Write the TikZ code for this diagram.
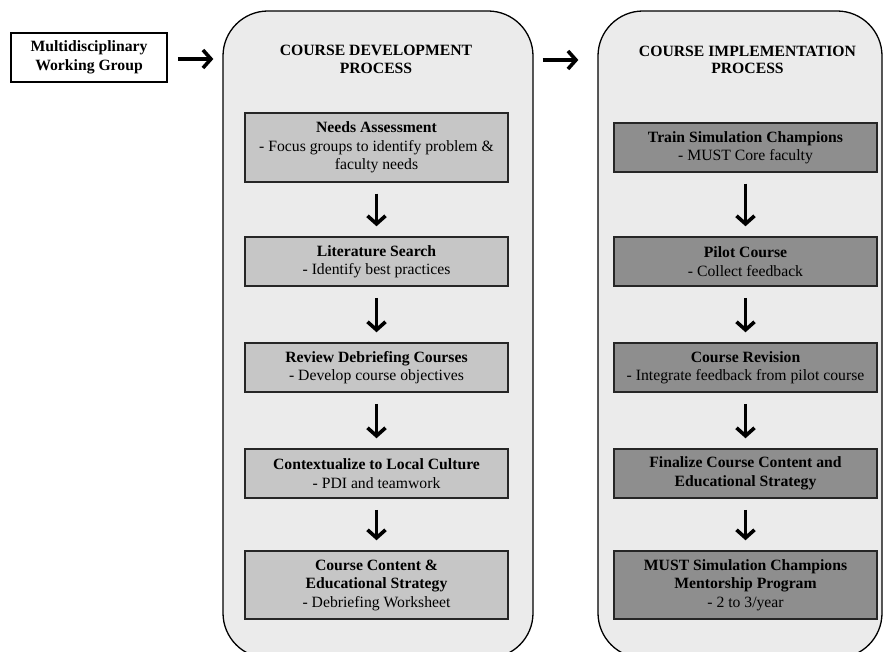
\documentclass[tikz,border=0pt]{standalone}
\usepackage{fontspec}
\setmainfont{Liberation Serif}
\usetikzlibrary{arrows.meta}
\definecolor{panelgray}{HTML}{EBEBEB}
\definecolor{lightbox}{HTML}{C6C6C6}
\definecolor{darkbox}{HTML}{8E8E8E}
\tikzset{
  panel/.style={draw=black, line width=1.3pt, fill=panelgray, rounded corners=45pt, minimum width=#1, minimum height=647pt, inner sep=0pt},
  stepbox/.style={draw=black!85, line width=1.5pt, minimum width=263pt, minimum height=#1, inner sep=2pt, align=center, font=\fontsize{15.7}{18.5}\selectfont},
  lbox/.style={stepbox=#1, fill=lightbox},
  dbox/.style={stepbox=#1, fill=darkbox},
  ttl/.style={align=center, font=\fontsize{15.7}{17.5}\selectfont\bfseries},
  flow/.style={line width=3.6pt, -{Straight Barb[length=8pt,width=18pt,line width=3.6pt]}},
}
\begin{document}
\begin{tikzpicture}[x=1pt,y=-1pt]
\useasboundingbox (0,0) rectangle (885,652);
\begin{scope}
\clip (0,0) rectangle (885,652);
% panels
\node[panel=310pt] (lp) at (378,334.5) {};
\node[panel=284pt] (rp) at (740,334.5) {};
\end{scope}
% start box
\node[draw=black, line width=1.5pt, fill=white, minimum width=156pt, minimum height=49pt, inner sep=2pt, align=center, font=\fontsize{15.7}{18.5}\selectfont\bfseries] (mdg) at (89,57.5) {Multidisciplinary\\Working Group};
% titles
\node[ttl] (lt) at (376,59.5) {COURSE DEVELOPMENT\\PROCESS};
\node[ttl] (rt) at (747.5,60) {COURSE IMPLEMENTATION\\PROCESS};
% left boxes
\node[lbox=69pt] (l1) at (376.5,147.5) {\textbf{Needs Assessment}\\- Focus groups to identify problem \&\\faculty needs};
\node[lbox=49pt] (l2) at (376.5,261.5) {\textbf{Literature Search}\\- Identify best practices};
\node[lbox=49pt] (l3) at (376.5,367.5) {\textbf{Review Debriefing Courses}\\- Develop course objectives};
\node[lbox=49pt] (l4) at (376.5,473.5) {\textbf{Contextualize to Local Culture}\\- PDI and teamwork};
\node[lbox=68pt] (l5) at (376.5,585) {\textbf{Course Content \&}\\\textbf{Educational Strategy}\\- Debriefing Worksheet};
% right boxes
\node[dbox=49pt] (r1) at (745.5,147.5) {\textbf{Train Simulation Champions}\\- MUST Core faculty};
\node[dbox=49pt] (r2) at (745.5,261.5) {\textbf{Pilot Course}\\- Collect feedback};
\node[dbox=49pt] (r3) at (745.5,367.5) {\textbf{Course Revision}\\- Integrate feedback from pilot course};
\node[dbox=49pt] (r4) at (745.5,473.5) {\textbf{Finalize Course Content and}\\\textbf{Educational Strategy}};
\node[dbox=68pt] (r5) at (745.5,585) {\textbf{MUST Simulation Champions}\\\textbf{Mentorship Program}\\- 2 to 3/year};
% horizontal arrows
\coordinate (a1s) at (mdg.east |- 0,59);
\coordinate (a1e) at (lp.west |- 0,59);
\draw[flow, shorten <=10pt, shorten >=9pt] (a1s) -- (a1e);
\coordinate (a2s) at (lp.east |- 0,60);
\coordinate (a2e) at (rp.west |- 0,60);
\draw[flow, shorten <=9pt, shorten >=19pt] (a2s) -- (a2e);
% vertical arrows
\foreach \a/\b in {l1/l2,l2/l3,l3/l4,l4/l5,r1/r2,r2/r3,r3/r4,r4/r5}
  \draw[flow, shorten <=11pt, shorten >=10pt] (\a.south) -- (\b.north);
\end{tikzpicture}
\end{document}
